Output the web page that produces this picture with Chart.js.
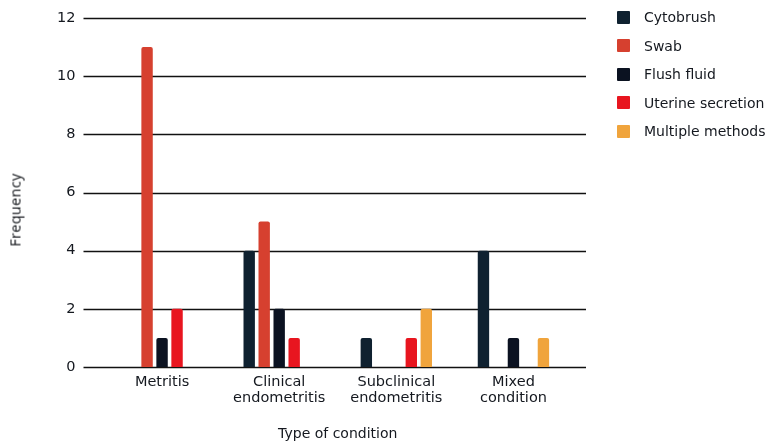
<!DOCTYPE html>
<html>
<head>
<meta charset="utf-8">
<script src="https://cdn.jsdelivr.net/npm/chart.js@4/dist/chart.umd.min.js"></script>
<style>
  html, body { margin: 0; padding: 0; background: #ffffff; }
  #wrap { position: relative; width: 782px; height: 447px; }
  canvas { position: absolute; left: 0; top: 0; }
  #legend { position: absolute; left: 617px; top: 3px; font-family: "DejaVu Sans", sans-serif; font-size: 14px; color: #14181f; }
  .item { display: flex; align-items: center; height: 28.5px; }
  .box { width: 13px; height: 13px; margin-right: 14px; border-radius: 1px; }
  #ytitle { position: absolute; left: 15px; top: 210px; transform: translate(-50%, -50%) rotate(-90deg); font-family: "Open Sans", sans-serif; font-size: 14.5px; letter-spacing: 0.3px; color: #0c0f14; white-space: nowrap; }
</style>
</head>
<body>
<div id="wrap">
  <canvas id="c" width="782" height="447"></canvas>
  <div id="legend"></div>
  <div id="ytitle">Frequency</div>
</div>
<script>
const categories = [["Metritis"], ["Clinical", "endometritis"], ["Subclinical", "endometritis"], ["Mixed", "condition"]];
const seriesNames = ["Cytobrush", "Swab", "Flush fluid", "Uterine secretion", "Multiple methods"];
const cytobrush = [0, 4, 1, 4];
const swab = [11, 5, 0, 0];
const flushFluid = [1, 2, 0, 1];
const uterineSecretion = [2, 1, 1, 0];
const multipleMethods = [0, 0, 2, 1];
const yTicks = [0, 2, 4, 6, 8, 10, 12];
const seriesColors = ["#0f2130", "#d6402f", "#0b1221", "#e8151f", "#f0a43c"];

const seriesValues = [cytobrush, swab, flushFluid, uterineSecretion, multipleMethods];

const legendEl = document.getElementById('legend');
seriesNames.forEach((n, i) => {
  const it = document.createElement('div'); it.className = 'item';
  const b = document.createElement('div'); b.className = 'box'; b.style.background = seriesColors[i];
  const t = document.createElement('span'); t.textContent = n;
  it.appendChild(b); it.appendChild(t); legendEl.appendChild(it);
});

const extendedGrid = {
  id: 'extendedGrid',
  beforeDatasetsDraw(chart) {
    const {ctx, chartArea} = chart;
    const y = chart.scales.y;
    ctx.save();
    ctx.strokeStyle = '#111111';
    ctx.lineWidth = 1.6;
    yTicks.forEach(v => {
      const py = Math.round(y.getPixelForValue(v)) + 0.5;
      ctx.beginPath();
      ctx.moveTo(chartArea.left - 20, py);
      ctx.lineTo(chartArea.right + 14, py);
      ctx.stroke();
    });
    ctx.restore();
  }
};

new Chart(document.getElementById('c'), {
  type: 'bar',
  data: {
    labels: categories,
    datasets: seriesNames.map((n, i) => ({
      label: n,
      data: seriesValues[i],
      backgroundColor: seriesColors[i],
      borderRadius: {topLeft: 2, topRight: 2},
      borderSkipped: 'bottom',
      categoryPercentage: 0.64,
      barPercentage: 0.76
    }))
  },
  options: {
    responsive: false,
    animation: false,
    layout: { padding: { left: 7.5, right: 210, top: 18, bottom: 4 } },
    plugins: { legend: { display: false }, tooltip: { enabled: false } },
    scales: {
      x: {
        grid: { display: false, drawTicks: false },
        border: { display: false },
        ticks: { color: '#14181f', font: { family: 'DejaVu Sans', size: 14.5, lineHeight: 1.12 }, padding: 7, maxRotation: 0, autoSkip: false },
        title: { display: true, text: 'Type of condition', color: '#14181f', font: { family: 'DejaVu Sans', size: 14, lineHeight: 1.2 }, padding: 0 },
        afterFit: s => { s.height = 76; s.paddingLeft = 0; s.paddingRight = 0; }
      },
      y: {
        min: 0, max: 12,
        afterBuildTicks: s => { s.ticks = yTicks.map(v => ({ value: v })); },
        grid: { display: false, drawTicks: false },
        border: { display: false },
        ticks: { color: '#14181f', font: { family: 'DejaVu Sans', size: 14.5 }, padding: 28 },
        title: { display: false },
        afterFit: s => { s.width = 96; s.paddingTop = 0; s.paddingBottom = 0; }
      }
    }
  },
  plugins: [extendedGrid]
});
</script>
</body>
</html>
